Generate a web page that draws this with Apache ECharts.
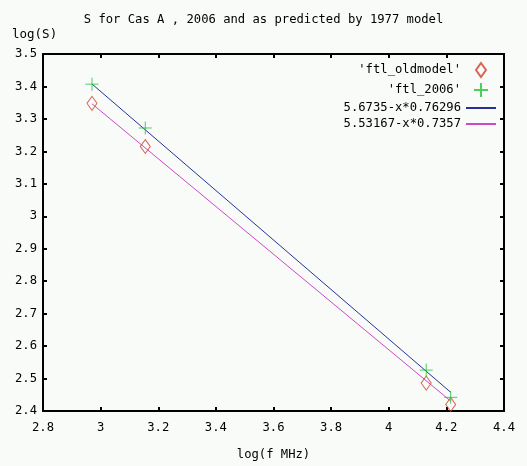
<!DOCTYPE html>
<html>
<head>
<meta charset="utf-8">
<script src="https://cdn.jsdelivr.net/npm/echarts@6/dist/echarts.min.js"></script>
<style>
html,body{margin:0;padding:0;background:#f8fbf8;}
#c{width:527px;height:466px;}
</style>
</head>
<body>
<div id="c"></div>
<script>
// data
const oldmodelX = [2.97, 3.155, 4.13, 4.215];
const oldmodelY = [3.348, 3.215, 2.486, 2.42];
const ftl2006X = [2.97, 3.155, 4.13, 4.215];
const ftl2006Y = [3.407, 3.272, 2.526, 2.442];
const fitNewX = [2.97, 4.215];
const fitNewY = [3.4076, 2.4576];
const fitOldX = [2.97, 4.215];
const fitOldY = [3.3466, 2.4306];
const xTicks = [2.8, 3, 3.2, 3.4, 3.6, 3.8, 4, 4.2, 4.4];
const yTicks = [2.4, 2.5, 2.6, 2.7, 2.8, 2.9, 3, 3.1, 3.2, 3.3, 3.4, 3.5];
const seriesNames = ["'ftl_oldmodel'", "'ftl_2006'", "5.6735-x*0.76296", "5.53167-x*0.7357"];
const titleText = "S for Cas A , 2006 and as predicted by 1977 model";
const xLabel = "log(f MHz)";
const yLabel = "log(S)";

const zip = (xs, ys) => xs.map((x, i) => [x, ys[i]]);
const FONT = "DejaVu Sans Mono";
const plus = 'path://M0,5L10,5M5,0L5,10';
const diamond = 'path://M5,0L10,7L5,14L0,7Z';

const chart = echarts.init(document.getElementById('c'), null, {renderer: 'canvas'});
const frameAxis = {
  axisLine: {show: true, lineStyle: {color: '#000', width: 2}},
  axisTick: {show: true, inside: true, length: 4, lineStyle: {color: '#000', width: 2}},
  splitLine: {show: false}
};
chart.setOption({
  backgroundColor: '#f8fbf8',
  animation: false,
  title: {
    text: titleText, left: 'center', top: 9,
    textStyle: {fontFamily: FONT, fontSize: 12.2, fontWeight: 'normal', color: '#000'}
  },
  legend: {
    orient: 'vertical', right: 30, top: 62, align: 'right', padding: 0,
    itemWidth: 30, itemHeight: 14, itemGap: 4,
    textStyle: {fontFamily: FONT, fontSize: 12.2, color: '#000'},
    data: [
      {name: seriesNames[0], icon: diamond},
      {name: seriesNames[1], icon: plus},
      {name: seriesNames[2], itemStyle: {opacity: 0}},
      {name: seriesNames[3], itemStyle: {opacity: 0}}
    ]
  },
  grid: {left: 43, right: 23, top: 54, bottom: 54},
  xAxis: [
    Object.assign({
      type: 'value', min: 2.8, max: 4.4, interval: 0.2, position: 'bottom',
      name: xLabel, nameLocation: 'middle', nameGap: 38,
      nameTextStyle: {fontFamily: FONT, fontSize: 12.2, color: '#000'},
      axisLabel: {fontFamily: FONT, fontSize: 12.2, color: '#000', margin: 11,
        formatter: v => String(+v.toFixed(1))}
    }, frameAxis),
    Object.assign({
      type: 'value', min: 2.8, max: 4.4, interval: 0.2, position: 'top',
      axisLabel: {show: false}
    }, frameAxis)
  ],
  yAxis: [
    Object.assign({
      type: 'value', min: 2.4, max: 3.5, interval: 0.1, position: 'left',
      axisLabel: {fontFamily: FONT, fontSize: 12.2, color: '#000', margin: 6,
        formatter: v => String(+v.toFixed(1))}
    }, frameAxis),
    Object.assign({
      type: 'value', min: 2.4, max: 3.5, interval: 0.1, position: 'right',
      axisLabel: {show: false}
    }, frameAxis)
  ],
  graphic: [{
    type: 'text', left: 12, top: 28,
    style: {text: yLabel, font: '12.5px "DejaVu Sans Mono"', fill: '#000'}
  }],
  series: [
    {
      name: seriesNames[2], type: 'line', data: zip(fitNewX, fitNewY),
      symbol: 'none', lineStyle: {color: '#26329a', width: 1}, itemStyle: {color: '#26329a'}, z: 2
    },
    {
      name: seriesNames[3], type: 'line', data: zip(fitOldX, fitOldY),
      symbol: 'none', lineStyle: {color: '#d048c8', width: 1}, itemStyle: {color: '#d048c8'}, z: 2
    },
    {
      name: seriesNames[0], type: 'scatter', data: zip(oldmodelX, oldmodelY),
      symbol: diamond, symbolSize: [10, 14],
      itemStyle: {color: 'rgba(0,0,0,0)', borderColor: '#d0402c', borderWidth: 1}, z: 3
    },
    {
      name: seriesNames[1], type: 'scatter', data: zip(ftl2006X, ftl2006Y),
      symbol: plus, symbolSize: 13,
      itemStyle: {color: 'rgba(0,0,0,0)', borderColor: '#22c03a', borderWidth: 1}, z: 4
    }
  ]
});
</script>
</body>
</html>
